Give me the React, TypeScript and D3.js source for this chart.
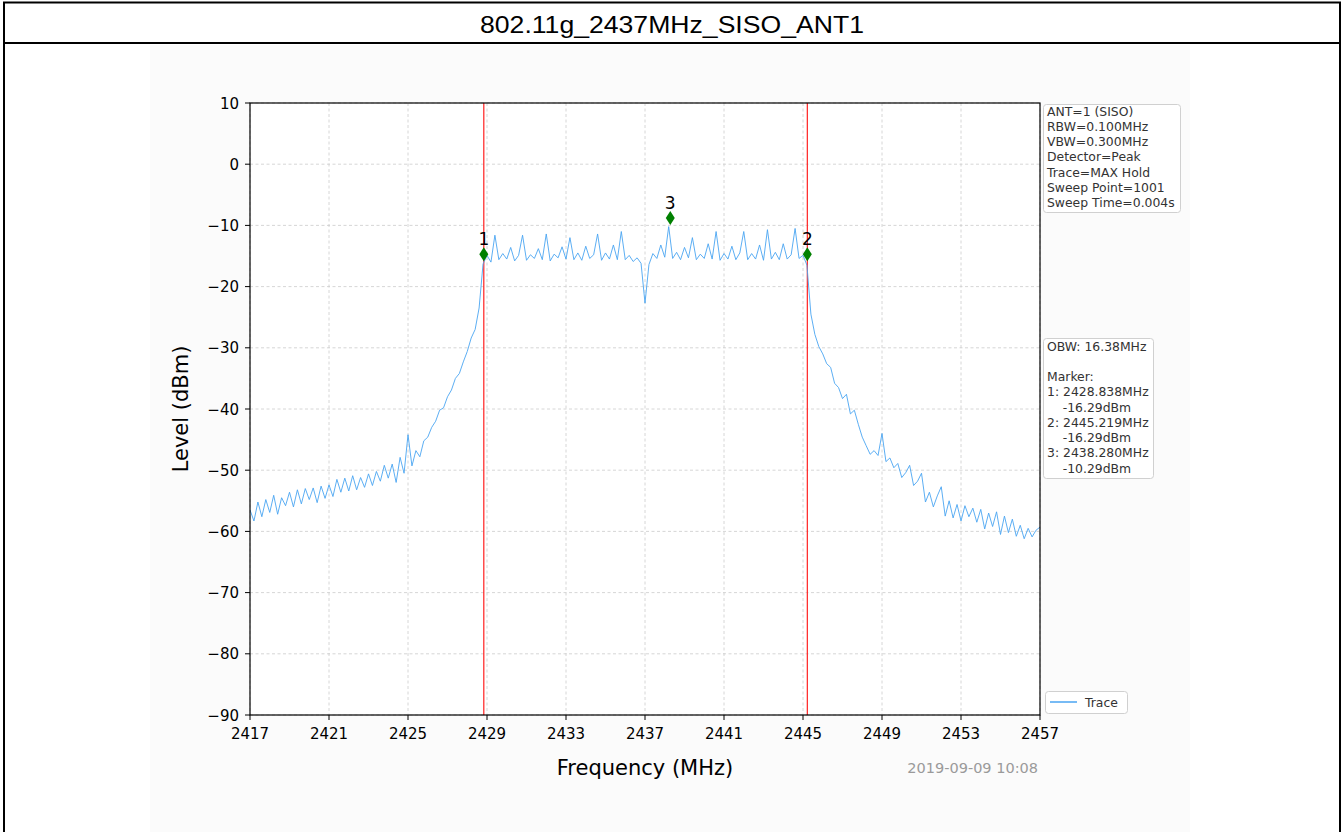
import React from "react";
import * as d3 from "d3";

// ---- Data ----
const TITLE = "802.11g_2437MHz_SISO_ANT1";
const FREQ_START = 2417;
const FREQ_STOP = 2457;

// Trace levels (dBm), one value every 0.2 MHz from 2417 to 2457 MHz
const LEVELS = [
  -56.5, -58.3, -55.2, -57.6, -54.8, -56.9, -54.1, -57.2, -54.5, -55.8,
  -53.6, -56.0, -53.2, -55.5, -53.0, -54.8, -52.9, -55.3, -52.6, -54.6,
  -52.4, -54.3, -51.5, -53.6, -51.3, -53.4, -50.9, -53.2, -51.2, -52.8,
  -50.6, -52.5, -50.2, -51.8, -49.2, -51.3, -49.0, -52.0, -47.9, -50.5,
  -44.2, -49.3, -46.8, -47.8, -45.2, -44.6, -43.0, -42.0, -40.2, -39.8,
  -38.0, -36.9, -35.0, -34.2, -32.3, -30.6, -28.4, -27.0, -23.5, -16.3,
  -14.9, -16.0, -11.6, -15.6, -14.6, -15.5, -13.6, -15.8, -14.9, -11.6,
  -15.7, -14.8, -15.4, -13.8, -15.6, -11.4, -15.8, -14.7, -15.3, -13.5,
  -15.5, -12.0, -15.6, -14.5, -15.7, -13.4, -15.4, -14.8, -11.4, -15.7,
  -14.5, -15.5, -13.2, -15.6, -11.0, -15.6, -14.9, -15.9, -15.3, -16.2,
  -22.7, -16.4, -14.6, -15.4, -13.2, -15.2, -10.2, -15.4, -14.4, -15.6,
  -13.6, -15.3, -12.0, -15.6, -14.7, -15.4, -13.0, -15.5, -11.0, -15.7,
  -14.6, -15.5, -13.4, -15.6, -14.5, -11.0, -15.6, -14.6, -15.5, -13.2,
  -15.7, -10.7, -15.5, -14.4, -15.6, -13.0, -15.5, -14.8, -10.5, -15.4,
  -14.9, -16.5, -24.5, -27.8, -29.8, -31.0, -32.6, -33.2, -35.8, -36.5,
  -38.3, -37.6, -40.8, -40.2, -42.5, -44.6, -46.0, -47.4, -46.8, -47.6,
  -44.0, -48.6, -48.0, -49.6, -48.9, -51.2, -50.4, -49.2, -52.5, -51.8,
  -50.5, -55.2, -53.6, -56.0, -54.2, -52.7, -57.5, -55.0, -57.8, -55.6,
  -58.3, -55.8, -57.6, -56.2, -58.5, -56.4, -59.6, -57.0, -59.2, -56.8,
  -60.5, -57.5, -60.2, -58.0, -60.8, -59.0, -61.2, -59.5, -60.9, -59.8,
  -59.3,
];

const X_TICKS = [2417, 2421, 2425, 2429, 2433, 2437, 2441, 2445, 2449, 2453, 2457];
const Y_TICKS = [10, 0, -10, -20, -30, -40, -50, -60, -70, -80, -90];

const MARKER_IDS = ["1", "2", "3"];
const MARKER_FREQS = [2428.838, 2445.219, 2438.28];
const MARKER_PLOT_LEVELS = [-14.7, -14.7, -8.8];
const RED_LINE_FREQS = [2428.838, 2445.219];

const SETTINGS_LINES = [
  "ANT=1 (SISO)",
  "RBW=0.100MHz",
  "VBW=0.300MHz",
  "Detector=Peak",
  "Trace=MAX Hold",
  "Sweep Point=1001",
  "Sweep Time=0.004s",
];
const RESULT_LINES = [
  "OBW: 16.38MHz",
  "",
  "Marker:",
  "1: 2428.838MHz",
  "    -16.29dBm",
  "2: 2445.219MHz",
  "    -16.29dBm",
  "3: 2438.280MHz",
  "    -10.29dBm",
];
const LEGEND_LABEL = "Trace";
const TIMESTAMP = "2019-09-09 10:08";
const X_LABEL = "Frequency (MHz)";
const Y_LABEL = "Level (dBm)";

// ---- Layout ----
const W = 1343;
const H = 832;
const PL = 250, PR = 1040, PT = 103, PB = 715;
const FONT = "'DejaVu Sans', sans-serif";
const TRACE_COLOR = "#4aa5f2";

export default function App() {
  const x = d3.scaleLinear().domain([FREQ_START, FREQ_STOP]).range([PL, PR]);
  const y = d3.scaleLinear().domain([-90, 10]).range([PB, PT]);
  const idxToFreq = d3.scaleLinear().domain([0, LEVELS.length - 1]).range([FREQ_START, FREQ_STOP]);
  const line = d3
    .line<number>()
    .x((_, i) => x(idxToFreq(i)))
    .y((d) => y(d));
  const fmt = d3.format("d");

  return (
    <div style={{ position: "absolute", left: 0, top: 0 }}>
      <svg width={W} height={H} style={{ display: "block" }}>
        <rect x={0} y={0} width={W} height={H} fill="#ffffff" />
        <rect x={150} y={45} width={1040} height={H - 45} fill="#fbfbfb" />
        {/* outer table frame */}
        <line x1={3} x2={1341} y1={2.5} y2={2.5} stroke="#000" strokeWidth={2} />
        <line x1={3} x2={1341} y1={43} y2={43} stroke="#000" strokeWidth={2} />
        <line x1={4} x2={4} y1={2} y2={H} stroke="#000" strokeWidth={2} />
        <line x1={1340} x2={1340} y1={2} y2={H} stroke="#000" strokeWidth={2} />
        <text
          x={672}
          y={33}
          textAnchor="middle"
          fontFamily="'Liberation Sans', Arial, sans-serif"
          fontSize={24}
          textLength={384}
          lengthAdjust="spacingAndGlyphs"
          fill="#000"
        >
          {TITLE}
        </text>

        {/* plot area */}
        <rect x={PL} y={PT} width={PR - PL} height={PB - PT} fill="#ffffff" />
        <defs>
          <clipPath id="plotclip">
            <rect x={PL} y={PT} width={PR - PL} height={PB - PT} />
          </clipPath>
        </defs>
        {/* grid */}
        {X_TICKS.map((t) => (
          <line key={"gx" + t} x1={x(t)} x2={x(t)} y1={PT} y2={PB} stroke="#cccccc" strokeWidth={0.8} strokeDasharray="3,2.5" />
        ))}
        {Y_TICKS.map((t) => (
          <line key={"gy" + t} x1={PL} x2={PR} y1={y(t)} y2={y(t)} stroke="#cccccc" strokeWidth={0.8} strokeDasharray="3,2.5" />
        ))}

        {/* red marker lines */}
        {RED_LINE_FREQS.map((f) => (
          <line key={"r" + f} x1={x(f)} x2={x(f)} y1={PT} y2={PB} stroke="#ff2020" strokeWidth={1.2} />
        ))}

        {/* trace */}
        <path d={line(LEVELS) || ""} fill="none" stroke={TRACE_COLOR} strokeWidth={0.9} clipPath="url(#plotclip)" />

        {/* markers */}
        {MARKER_IDS.map((id, i) => {
          const cx = x(MARKER_FREQS[i]);
          const cy = y(MARKER_PLOT_LEVELS[i]);
          return (
            <g key={"m" + id}>
              <path d={`M${cx},${cy - 7} L${cx + 4.5},${cy} L${cx},${cy + 7} L${cx - 4.5},${cy} Z`} fill="#008000" />
              <text x={cx} y={cy - 9} textAnchor="middle" fontFamily={FONT} fontSize={17} fill="#000">
                {id}
              </text>
            </g>
          );
        })}

        {/* spines */}
        <rect x={PL} y={PT} width={PR - PL} height={PB - PT} fill="none" stroke="#000" strokeWidth={1.2} />

        {/* x ticks */}
        {X_TICKS.map((t) => (
          <g key={"xt" + t}>
            <line x1={x(t)} x2={x(t)} y1={PB} y2={PB + 5} stroke="#000" strokeWidth={1} />
            <text x={x(t)} y={PB + 24} textAnchor="middle" fontFamily={FONT} fontSize={15} fill="#000">
              {fmt(t)}
            </text>
          </g>
        ))}
        {/* y ticks */}
        {Y_TICKS.map((t) => (
          <g key={"yt" + t}>
            <line x1={PL - 5} x2={PL} y1={y(t)} y2={y(t)} stroke="#000" strokeWidth={1} />
            <text x={PL - 11} y={y(t) + 5.5} textAnchor="end" fontFamily={FONT} fontSize={15} fill="#000">
              {fmt(t)}
            </text>
          </g>
        ))}

        {/* axis labels */}
        <text x={(PL + PR) / 2} y={775} textAnchor="middle" fontFamily={FONT} fontSize={21} fill="#000">
          {X_LABEL}
        </text>
        <text
          transform={`translate(188,${(PT + PB) / 2}) rotate(-90)`}
          textAnchor="middle"
          fontFamily={FONT}
          fontSize={21}
          fill="#000"
        >
          {Y_LABEL}
        </text>
        <text x={1038} y={773} textAnchor="end" fontFamily={FONT} fontSize={14.5} fill="#9a9a9a">
          {TIMESTAMP}
        </text>

        {/* settings box */}
        <rect x={1043.5} y={104.5} width={137} height={108} rx={3} fill="#ffffff" stroke="#d0d0d0" strokeWidth={1} />
        {SETTINGS_LINES.map((s, i) => (
          <text key={"s" + i} x={1047} y={115.5 + i * 15.3} fontFamily={FONT} fontSize={12.4} fill="#333" style={{ whiteSpace: "pre" }}>
            {s}
          </text>
        ))}

        {/* results box */}
        <rect x={1043.5} y={338.5} width={110} height={140} rx={3} fill="#ffffff" stroke="#d0d0d0" strokeWidth={1} />
        {RESULT_LINES.map((s, i) => (
          <text key={"res" + i} x={1047} y={350.5 + i * 15.25} fontFamily={FONT} fontSize={12.4} fill="#333" xmlSpace="preserve" style={{ whiteSpace: "pre" }}>
            {s}
          </text>
        ))}

        {/* legend */}
        <rect x={1045.5} y={691.5} width={82} height={22} rx={3} fill="#ffffff" stroke="#d0d0d0" strokeWidth={1} />
        <line x1={1050} x2={1077} y1={702} y2={702} stroke={TRACE_COLOR} strokeWidth={1.5} />
        <text x={1085} y={706.5} fontFamily={FONT} fontSize={12.4} fill="#333">
          {LEGEND_LABEL}
        </text>
      </svg>
    </div>
  );
}
